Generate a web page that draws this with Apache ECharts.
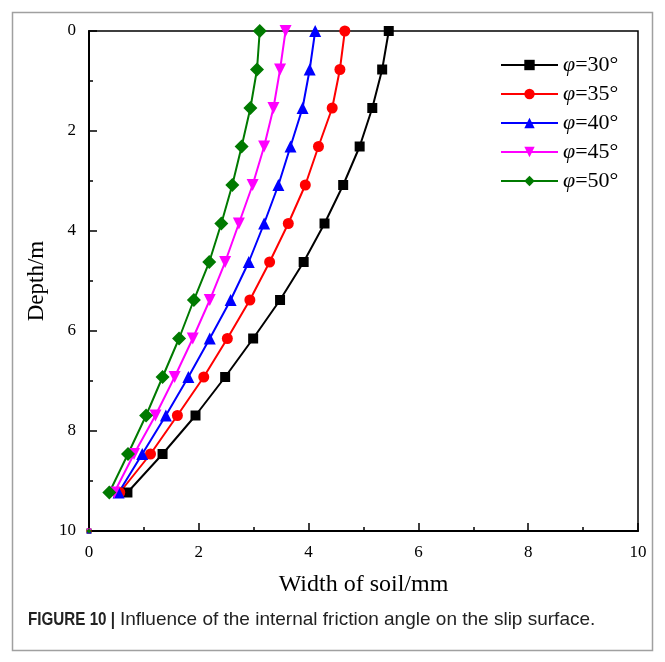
<!DOCTYPE html>
<html>
<head>
<meta charset="utf-8">
<script src="https://cdn.jsdelivr.net/npm/echarts@6/dist/echarts.min.js"></script>
<style>
html,body{margin:0;padding:0;background:#fff;}
#c{width:665px;height:662px;}
</style>
</head>
<body>
<div id="c"></div>
<script>
const depth = [0, 0.77, 1.54, 2.31, 3.08, 3.85, 4.62, 5.38, 6.15, 6.92, 7.69, 8.46, 9.23, 10];
const w30 = [5.46, 5.34, 5.16, 4.93, 4.63, 4.29, 3.91, 3.48, 2.99, 2.48, 1.94, 1.34, 0.70, 0];
const w35 = [4.66, 4.57, 4.43, 4.18, 3.94, 3.63, 3.29, 2.93, 2.52, 2.09, 1.61, 1.12, 0.56, 0];
const w40 = [4.12, 4.02, 3.89, 3.67, 3.45, 3.19, 2.91, 2.58, 2.20, 1.81, 1.40, 0.97, 0.54, 0];
const w45 = [3.58, 3.48, 3.36, 3.19, 2.98, 2.73, 2.48, 2.20, 1.89, 1.56, 1.21, 0.82, 0.46, 0];
const w50 = [3.11, 3.06, 2.94, 2.78, 2.61, 2.41, 2.19, 1.91, 1.64, 1.34, 1.04, 0.71, 0.37, 0];
const seriesNames = ['φ=30°', 'φ=35°', 'φ=40°', 'φ=45°', 'φ=50°'];
const xTitle = 'Width of soil/mm';
const yTitle = 'Depth/m';
const captionBold = 'FIGURE 10 |';
const captionText = 'Influence of the internal friction angle on the slip surface.';

const widths = [w30, w35, w40, w45, w50];
const colors = ['#000000', '#ff0000', '#0000ff', '#ff00ff', '#007a00'];
const symbols = ['rect', 'circle', 'triangle', 'triangle', 'diamond'];
const sizes = [10, 11, 12, 12, 14];
const rotates = [0, 0, 0, 180, 0];

function buildData(ws) {
  const d = [];
  for (let i = 0; i < ws.length - 1; i++) d.push([ws[i], depth[i]]);
  d.push(null);
  d.push({ value: [ws[ws.length - 1], depth[depth.length - 1]], symbolSize: 5 });
  return d;
}

const serif = '"Liberation Serif","Times New Roman",serif';
const chart = echarts.init(document.getElementById('c'), null, { renderer: 'canvas' });
chart.setOption({
  backgroundColor: '#ffffff',
  animation: false,
  grid: { left: 89, right: 27, top: 31, bottom: 131, show: true, borderColor: '#000', borderWidth: 1.5, backgroundColor: 'transparent' },
  xAxis: {
    type: 'value', min: 0, max: 10, interval: 2,
    name: xTitle, nameLocation: 'middle', nameGap: 42,
    nameTextStyle: { fontFamily: serif, fontSize: 24, color: '#000' },
    axisLine: { show: true, onZero: false, lineStyle: { color: '#000', width: 2 } },
    axisTick: { show: true, inside: true, length: 8, lineStyle: { color: '#000', width: 1.5 } },
    minorTick: { show: true, splitNumber: 2, length: 4, lineStyle: { color: '#000', width: 1.5 } },
    splitLine: { show: false },
    axisLabel: { fontFamily: serif, fontSize: 17, color: '#000', margin: 13 }
  },
  yAxis: {
    type: 'value', min: 0, max: 10, interval: 2, inverse: true,
    name: yTitle, nameLocation: 'middle', nameGap: 40, nameRotate: 90,
    nameTextStyle: { fontFamily: serif, fontSize: 23, color: '#000' },
    axisLine: { show: true, onZero: false, lineStyle: { color: '#000', width: 2 } },
    axisTick: { show: true, inside: true, length: 8, lineStyle: { color: '#000', width: 1.5 } },
    minorTick: { show: true, splitNumber: 2, length: 4, lineStyle: { color: '#000', width: 1.5 } },
    splitLine: { show: false },
    axisLabel: { fontFamily: serif, fontSize: 17, color: '#000', margin: 13 }
  },
  legend: {
    orient: 'vertical', left: 495, top: 49, itemGap: 7, itemWidth: 57, itemHeight: 13,
    data: seriesNames,
    formatter: function (n) { return '{i|φ}{t|' + n.slice(1) + '}'; },
    textStyle: {
      fontFamily: serif, fontSize: 22, color: '#000',
      rich: {
        i: { fontFamily: serif, fontSize: 22, fontStyle: 'italic', color: '#000' },
        t: { fontFamily: serif, fontSize: 22, color: '#000' }
      }
    }
  },
  graphic: [
    { type: 'rect', shape: { x: 12.5, y: 12.5, width: 640, height: 638 }, style: { fill: 'none', stroke: '#a0a0a0', lineWidth: 1.5 }, z: 0 },
    { type: 'text', x: 28, y: 610, scaleX: 0.8, style: { text: captionBold, font: 'bold 19px "Liberation Sans", Arial, sans-serif', fill: '#222' } },
    { type: 'text', x: 120, y: 610, style: { text: captionText, font: '19px "Liberation Sans", Arial, sans-serif', fill: '#222' } }
  ],
  series: widths.map(function (ws, k) {
    return {
      name: seriesNames[k], type: 'line', data: buildData(ws),
      symbol: symbols[k], symbolSize: sizes[k], symbolRotate: rotates[k],
      showAllSymbol: true, connectNulls: false, clip: false,
      lineStyle: { color: colors[k], width: 2 },
      itemStyle: { color: colors[k], borderWidth: 0 }
    };
  })
});
</script>
</body>
</html>
